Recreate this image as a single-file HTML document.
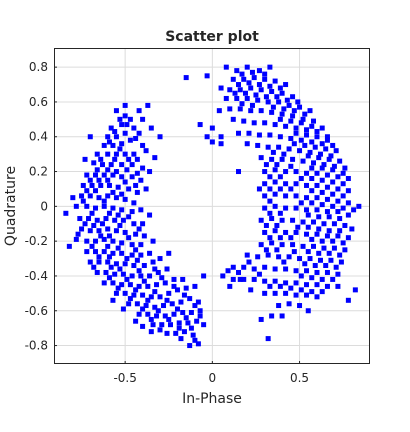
<!DOCTYPE html>
<html><head><meta charset="utf-8"><style>
body{margin:0;background:#fff;}
svg text{font-family:"DejaVu Sans","Liberation Sans",sans-serif;fill:#262626;}
</style></head><body>
<svg id="chart" width="410" height="427" viewBox="0 0 410 427" xmlns="http://www.w3.org/2000/svg">
<rect width="410" height="427" fill="#fff"/>
<g id="grid"></g><g id="marks"></g><g id="axes"></g>
</svg>
<script>
const xTicks=[-0.5,0,0.5];
const xTickLabels=["-0.5","0","0.5"];
const yTicks=[-0.8,-0.6,-0.4,-0.2,0,0.2,0.4,0.6,0.8];
const yTickLabels=["-0.8","-0.6","-0.4","-0.2","0","0.2","0.4","0.6","0.8"];
const leftArc=[[-0.55,0.55],[-0.5,0.52],[-0.47,0.5],[-0.52,0.47],[-0.58,0.45],[-0.45,0.45],[-0.5,0.42],[-0.55,0.4],[-0.6,0.4],[-0.42,0.42],[-0.62,0.35],[-0.57,0.35],[-0.52,0.36],[-0.47,0.38],[-0.4,0.35],[-0.66,0.3],[-0.6,0.3],[-0.55,0.3],[-0.5,0.3],[-0.45,0.3],[-0.38,0.32],[-0.42,0.55],[-0.4,0.5],[-0.35,0.45],[-0.3,0.4],[-0.33,0.28],[-0.68,0.25],[-0.63,0.24],[-0.58,0.24],[-0.52,0.24],[-0.46,0.24],[-0.4,0.22],
[-0.72,0.18],[-0.67,0.18],[-0.62,0.18],[-0.57,0.18],[-0.52,0.17],[-0.46,0.17],[-0.41,0.15],[-0.36,0.2],[-0.74,0.12],[-0.69,0.12],[-0.64,0.12],[-0.59,0.12],[-0.54,0.11],[-0.48,0.1],[-0.43,0.08],[-0.75,0.06],[-0.7,0.06],[-0.65,0.05],[-0.6,0.06],[-0.55,0.05],[-0.5,0.04],[-0.45,0.02],[-0.78,0.0],[-0.72,0.0],[-0.67,-0.01],[-0.62,0.0],[-0.57,-0.01],[-0.52,-0.02],[-0.46,-0.03],[-0.41,-0.02],[-0.84,-0.04],[-0.8,0.05],
[-0.76,-0.07],[-0.71,-0.07],[-0.66,-0.08],[-0.61,-0.07],[-0.56,-0.08],[-0.51,-0.08],[-0.45,-0.1],[-0.4,-0.1],[-0.75,-0.13],[-0.7,-0.14],[-0.65,-0.14],[-0.6,-0.13],[-0.55,-0.14],[-0.5,-0.15],[-0.44,-0.16],[-0.39,-0.17],[-0.78,-0.19],[-0.72,-0.2],[-0.67,-0.2],[-0.62,-0.19],[-0.57,-0.2],[-0.52,-0.21],[-0.46,-0.22],[-0.41,-0.22],[-0.82,-0.23],
[-0.72,-0.26],[-0.67,-0.26],[-0.62,-0.26],[-0.57,-0.27],[-0.52,-0.27],[-0.46,-0.28],[-0.41,-0.28],[-0.36,-0.27],[-0.7,-0.32],[-0.65,-0.32],[-0.6,-0.32],[-0.55,-0.33],[-0.5,-0.33],[-0.45,-0.34],[-0.39,-0.34],[-0.34,-0.32],[-0.3,-0.3],[-0.66,-0.38],[-0.61,-0.38],[-0.56,-0.39],[-0.51,-0.39],[-0.46,-0.4],[-0.41,-0.4],[-0.36,-0.4],[-0.31,-0.38],[-0.26,-0.36],
[-0.62,-0.44],[-0.57,-0.44],[-0.52,-0.45],[-0.47,-0.45],[-0.42,-0.46],[-0.37,-0.46],[-0.32,-0.45],[-0.27,-0.44],[-0.22,-0.42],[-0.17,-0.42],[-0.55,-0.5],[-0.5,-0.5],[-0.45,-0.51],[-0.4,-0.51],[-0.35,-0.52],[-0.3,-0.52],[-0.25,-0.5],[-0.2,-0.48],[-0.15,-0.47],[-0.1,-0.46],[-0.05,-0.4],[-0.48,-0.56],[-0.43,-0.56],[-0.38,-0.57],[-0.33,-0.58],[-0.28,-0.57],[-0.23,-0.56],[-0.18,-0.55],[-0.13,-0.53],[-0.08,-0.55],[-0.57,-0.54],
[-0.42,-0.62],[-0.37,-0.62],[-0.32,-0.63],[-0.27,-0.63],[-0.22,-0.62],[-0.17,-0.61],[-0.12,-0.61],[-0.07,-0.6],[-0.34,-0.68],[-0.29,-0.68],[-0.24,-0.68],[-0.19,-0.67],[-0.14,-0.67],[-0.09,-0.66],[-0.05,-0.68],[-0.26,-0.73],[-0.21,-0.73],[-0.16,-0.72],[-0.11,-0.74],[-0.13,-0.8],[-0.08,-0.79],[-0.44,-0.66],[-0.35,-0.72],
[-0.7,0.4],[-0.73,0.27],[-0.38,0.1],[-0.36,-0.05],[-0.34,-0.2],[-0.25,-0.27],[-0.5,0.58],[-0.37,0.58]];
const leftFill=[[-0.53,0.5],[-0.49,0.47],[-0.56,0.43],[-0.44,0.39],[-0.59,0.37],[-0.53,0.33],[-0.48,0.27],[-0.64,0.27],[-0.43,0.27],[-0.56,0.27],[-0.6,0.21],[-0.66,0.21],[-0.49,0.21],[-0.55,0.2],[-0.43,0.19],[-0.7,0.15],[-0.65,0.15],[-0.6,0.15],[-0.5,0.14],[-0.44,0.12],[-0.72,0.09],[-0.67,0.09],[-0.57,0.08],[-0.52,0.07],[-0.62,0.03],[-0.74,0.03],[-0.69,-0.04],[-0.59,-0.04],[-0.54,-0.05],[-0.48,-0.06],[-0.73,-0.1],[-0.68,-0.11],[-0.63,-0.1],[-0.53,-0.11],[-0.42,-0.13],[-0.77,-0.16],[-0.64,-0.17],[-0.59,-0.17],[-0.48,-0.18],[-0.69,-0.23],[-0.6,-0.23],[-0.54,-0.24],[-0.44,-0.25],[-0.65,-0.29],[-0.59,-0.29],[-0.49,-0.3],[-0.43,-0.31],[-0.68,-0.35],[-0.58,-0.35],[-0.53,-0.36],[-0.42,-0.37],[-0.33,-0.36],[-0.59,-0.41],[-0.49,-0.42],[-0.39,-0.43],[-0.29,-0.41],[-0.54,-0.47],[-0.44,-0.48],[-0.33,-0.49],[-0.22,-0.46],[-0.47,-0.53],[-0.37,-0.54],[-0.26,-0.54],[-0.16,-0.51],[-0.4,-0.59],[-0.31,-0.6],[-0.2,-0.59],[-0.1,-0.57],[-0.35,-0.65],[-0.25,-0.65],[-0.15,-0.64],[-0.07,-0.63],[-0.3,-0.71],[-0.19,-0.7],[-0.12,-0.7],[-0.18,-0.76],[-0.1,-0.77],[-0.4,-0.69],[-0.51,-0.59]];
const rightArc=[[0.08,0.8],[0.14,0.78],[0.2,0.8],[0.27,0.78],[0.33,0.8],[0.12,0.73],[0.18,0.73],[0.24,0.74],[0.3,0.73],[0.36,0.72],[0.42,0.7],[-0.15,0.74],[-0.03,0.75],[0.05,0.68],[0.1,0.67],[0.16,0.67],[0.22,0.68],[0.28,0.67],[0.34,0.66],[0.4,0.65],[0.46,0.63],[0.08,0.62],[0.14,0.62],[0.2,0.62],[0.26,0.61],[0.32,0.6],[0.38,0.6],[0.44,0.58],[0.5,0.57],[0.56,0.55],[0.04,0.55],[0.1,0.56],[0.16,0.56],[0.22,0.55],[0.28,0.55],[0.34,0.54],[0.4,0.53],[0.46,0.52],[0.52,0.5],[0.58,0.49],[-0.07,0.47],[0.0,0.45],[0.05,0.4],[0.12,0.5],[0.18,0.49],[0.24,0.48],[0.3,0.48],[0.36,0.47],[0.42,0.46],[0.48,0.45],[0.54,0.44],[0.6,0.43],[0.66,0.4],[-0.03,0.4],[0.15,0.42],[0.21,0.42],[0.27,0.41],[0.33,0.41],[0.39,0.4],[0.45,0.39],[0.51,0.38],[0.57,0.37],[0.63,0.36],[0.69,0.35],[0.0,0.37],[0.05,0.36],[0.2,0.36],[0.26,0.35],[0.32,0.34],[0.38,0.34],[0.44,0.33],[0.5,0.32],[0.56,0.31],[0.62,0.3],[0.68,0.29],
[0.28,0.28],[0.34,0.27],[0.4,0.27],[0.46,0.27],[0.52,0.26],[0.58,0.25],[0.64,0.24],[0.7,0.23],[0.76,0.22],[0.3,0.2],[0.36,0.21],[0.42,0.2],[0.48,0.2],[0.54,0.19],[0.6,0.19],[0.66,0.18],[0.72,0.17],[0.78,0.16],[0.15,0.2],[0.3,0.13],[0.36,0.14],[0.42,0.13],[0.48,0.13],[0.54,0.12],[0.6,0.12],[0.66,0.11],[0.72,0.1],[0.78,0.09],[0.3,0.06],[0.36,0.07],[0.42,0.06],[0.48,0.06],[0.54,0.05],[0.6,0.05],[0.66,0.04],[0.72,0.03],[0.78,0.02],[0.84,0.0],[0.27,0.1],
[0.3,-0.01],[0.36,0.0],[0.42,-0.01],[0.48,-0.01],[0.54,-0.02],[0.6,-0.02],[0.66,-0.03],[0.72,-0.03],[0.78,-0.05],[0.28,-0.08],[0.34,-0.07],[0.4,-0.08],[0.46,-0.08],[0.52,-0.09],[0.58,-0.09],[0.64,-0.1],[0.7,-0.1],[0.76,-0.11],[0.3,-0.15],[0.36,-0.14],[0.42,-0.15],[0.48,-0.15],[0.54,-0.16],[0.6,-0.16],[0.66,-0.17],[0.72,-0.17],[0.78,-0.18],[0.28,-0.22],[0.34,-0.21],[0.4,-0.22],[0.46,-0.22],[0.52,-0.23],[0.58,-0.23],[0.64,-0.24],[0.7,-0.24],[0.76,-0.25],[0.8,-0.13],
[0.2,-0.28],[0.26,-0.29],[0.32,-0.28],[0.38,-0.29],[0.44,-0.29],[0.5,-0.3],[0.56,-0.3],[0.62,-0.31],[0.68,-0.31],[0.74,-0.32],[0.12,-0.35],[0.18,-0.35],[0.24,-0.36],[0.3,-0.35],[0.36,-0.36],[0.42,-0.36],[0.48,-0.37],[0.54,-0.37],[0.6,-0.38],[0.66,-0.38],[0.72,-0.39],[0.06,-0.4],[0.12,-0.42],[0.18,-0.42],[0.24,-0.42],[0.3,-0.43],[0.36,-0.43],[0.42,-0.44],[0.48,-0.44],[0.54,-0.45],[0.6,-0.45],[0.66,-0.46],[0.22,-0.48],[0.3,-0.5],[0.36,-0.5],[0.42,-0.5],[0.48,-0.51],[0.54,-0.51],[0.6,-0.52],[0.72,-0.46],[0.82,-0.48],[0.78,-0.54],[0.38,-0.57],[0.44,-0.56],[0.5,-0.57],[0.55,-0.6],[0.28,-0.65],[0.34,-0.63],[0.4,-0.63],[0.32,-0.76],[0.16,-0.42],[0.1,-0.46]];
const rightFill=[[0.17,0.76],[0.23,0.77],[0.3,0.76],[0.15,0.7],[0.21,0.71],[0.27,0.7],[0.33,0.69],[0.39,0.68],[0.13,0.65],[0.19,0.65],[0.25,0.64],[0.31,0.63],[0.37,0.63],[0.43,0.61],[0.49,0.6],[0.17,0.59],[0.23,0.58],[0.35,0.57],[0.41,0.56],[0.47,0.55],[0.53,0.53],[0.39,0.5],[0.45,0.49],[0.51,0.48],[0.57,0.46],[0.63,0.45],[0.48,0.42],[0.54,0.41],[0.6,0.4],[0.66,0.38],[0.47,0.36],[0.53,0.35],[0.59,0.34],[0.65,0.33],[0.71,0.32],[0.55,0.29],[0.61,0.28],[0.67,0.27],[0.73,0.26],[0.57,0.22],[0.63,0.22],[0.69,0.21],[0.75,0.19],[0.45,0.23],[0.51,0.16],[0.57,0.16],[0.63,0.15],[0.69,0.14],[0.75,0.13],[0.57,0.09],[0.63,0.08],[0.69,0.07],[0.75,0.06],[0.45,0.1],[0.51,0.02],[0.57,0.02],[0.63,0.01],[0.69,0.0],[0.75,-0.01],[0.81,-0.02],[0.55,-0.05],[0.61,-0.06],[0.67,-0.06],[0.73,-0.07],[0.49,-0.12],[0.55,-0.12],[0.61,-0.13],[0.67,-0.14],[0.73,-0.14],[0.57,-0.19],[0.63,-0.2],[0.69,-0.2],[0.75,-0.21],[0.45,-0.18],[0.55,-0.26],[0.61,-0.27],[0.67,-0.27],[0.73,-0.28],[0.47,-0.26],[0.53,-0.33],[0.59,-0.34],[0.65,-0.34],[0.71,-0.35],[0.41,-0.32],[0.51,-0.4],[0.57,-0.41],[0.63,-0.42],[0.69,-0.42],[0.45,-0.47],[0.51,-0.48],[0.57,-0.49],[0.63,-0.49],[0.39,-0.46],[0.27,-0.39],[0.33,-0.46],[0.21,-0.32],[0.15,-0.38],[0.09,-0.37],[0.35,0.31],[0.41,0.3],[0.31,0.24],[0.37,0.24],[0.33,0.17],[0.39,0.17],[0.33,0.1],[0.39,0.1],[0.33,0.03],[0.33,-0.04],[0.39,-0.04],[0.31,-0.11],[0.37,-0.11],[0.33,-0.18],[0.39,-0.18],[0.31,-0.25],[0.37,-0.25]];

const NS="http://www.w3.org/2000/svg";
const L=54,R=370,T=48,B=364;
const xMin=-0.908,xMax=0.904,yMin=-0.906,yMax=0.91;
function sx(v){return L+(v-xMin)/(xMax-xMin)*(R-L);}
function sy(v){return B-(v-yMin)/(yMax-yMin)*(B-T);}
function mk(tag,attrs,parent){const e=document.createElementNS(NS,tag);for(const k in attrs)e.setAttribute(k,attrs[k]);parent.appendChild(e);return e;}
const grid=document.getElementById('grid'),marks=document.getElementById('marks'),axes=document.getElementById('axes');
xTicks.forEach((v,i)=>{
  const g=mk('line',{x1:sx(v),x2:sx(v),y1:T,y2:B,stroke:'#dcdcdc','stroke-width':1},grid);
  
  
  const t=mk('text',{x:sx(v),y:B+18,'text-anchor':'middle','font-size':12},axes);
  t.textContent=xTickLabels[i];
  
  
  mk('line',{x1:sx(v),x2:sx(v),y1:B,y2:B-3,stroke:'#262626'},axes);
});
yTicks.forEach((v,i)=>{
  const g=mk('line',{x1:L,x2:R,y1:sy(v),y2:sy(v),stroke:'#dcdcdc','stroke-width':1},grid);
  
  
  const t=mk('text',{x:L-6,y:sy(v)+4,'text-anchor':'end','font-size':12},axes);
  t.textContent=yTickLabels[i];
  
  
  mk('line',{x1:L,x2:L+3,y1:sy(v),y2:sy(v),stroke:'#262626'},axes);
});
function drawSeries(arr,name){
  arr.forEach(p=>{
    const r=mk('rect',{x:sx(p[0])-2.5,y:sy(p[1])-2.5,width:5,height:5,fill:'#0000ff'},marks);
    
    
  });
}
drawSeries(leftArc,'scatter-point-left');
drawSeries(leftFill,'scatter-point-left');
drawSeries(rightArc,'scatter-point-right');
drawSeries(rightFill,'scatter-point-right');
const fr=mk('rect',{x:L+0.5,y:T+0.5,width:R-L-1,height:B-T-1,fill:'none',stroke:'#262626','stroke-width':1},axes);


const title=mk('text',{x:(L+R)/2,y:41,'text-anchor':'middle','font-size':14,'font-weight':'bold'},axes);
title.textContent='Scatter plot';


const xl=mk('text',{x:(L+R)/2,y:403,'text-anchor':'middle','font-size':14},axes);
xl.textContent='In-Phase';


const yl=mk('text',{x:0,y:0,'text-anchor':'middle','font-size':14,transform:'translate(15,'+((T+B)/2)+') rotate(-90)'},axes);
yl.textContent='Quadrature';


</script>
</body></html>
